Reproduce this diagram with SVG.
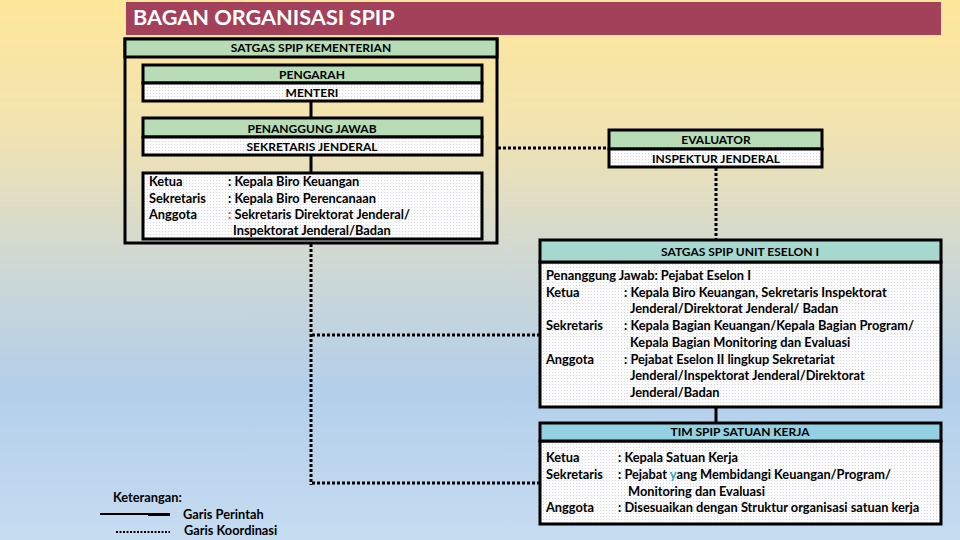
<svg xmlns="http://www.w3.org/2000/svg" width="960" height="540" viewBox="0 0 960 540">
<defs>
<linearGradient id="bg" x1="0" y1="0" x2="0" y2="1">
<stop offset="0" stop-color="#fee79b"/>
<stop offset="0.25" stop-color="#f1e3b2"/>
<stop offset="0.47" stop-color="#d1d9d2"/>
<stop offset="0.72" stop-color="#b3cfea"/>
<stop offset="1" stop-color="#c6dcf1"/>
</linearGradient>
<pattern id="dots" width="3" height="3" patternUnits="userSpaceOnUse">
<rect width="3" height="3" fill="#fbfbfb"/>
<rect width="1" height="1" fill="#d3d8dc"/>
</pattern>
<style>
text{font-family:Lato,"Open Sans","Liberation Sans",sans-serif;font-weight:bold;fill:#000}
.h{font-size:12px;text-anchor:middle}
.b{font-size:12.8px}
.box{stroke:#000;stroke-width:3}
.sol{stroke:#000;stroke-width:3;fill:none}
.dot{stroke:#000;stroke-width:3;stroke-dasharray:3 2;fill:none}
.green{fill:#b7dcb6}
</style>
</defs>
<rect width="960" height="540" fill="url(#bg)"/>
<g id="title">
<rect x="126" y="2" width="815" height="33" fill="#a3405a"/>
<text x="133" y="25" style="font-size:21.7px;fill:#fff">BAGAN ORGANISASI SPIP</text>
</g>
<g id="connectors">
<line class="sol" x1="311" y1="101" x2="311" y2="118"/>
<line class="sol" x1="311" y1="155" x2="311" y2="173"/>
<line class="dot" x1="498" y1="148" x2="608" y2="148"/>
<line class="dot" x1="716" y1="168" x2="716" y2="240"/>
<line class="sol" x1="716" y1="407" x2="716" y2="423"/>
<line class="dot" x1="311" y1="244" x2="311" y2="485"/>
<line class="dot" x1="312" y1="335" x2="539" y2="335"/>
<line class="dot" x1="312" y1="483" x2="539" y2="483"/>
</g>
<g id="satgas-kementerian">
<rect class="box" x="125" y="39" width="372" height="204" fill="none"/>
<rect class="box green" x="125" y="39" width="372" height="18"/>
<text class="h" x="311" y="52">SATGAS SPIP KEMENTERIAN</text>
</g>
<g id="pengarah">
<rect class="box green" x="143" y="65" width="339" height="18"/>
<rect class="box" x="143" y="83" width="339" height="18" fill="url(#dots)"/>
<text class="h" x="312" y="79">PENGARAH</text>
<text class="h" x="312" y="97">MENTERI</text>
</g>
<g id="penanggung-jawab">
<rect class="box green" x="143" y="118" width="339" height="19"/>
<rect class="box" x="143" y="137" width="339" height="18" fill="url(#dots)"/>
<text class="h" x="312" y="133">PENANGGUNG JAWAB</text>
<text class="h" x="312" y="151">SEKRETARIS JENDERAL</text>
</g>
<g id="anggota-kementerian">
<rect class="box" x="143" y="173" width="339" height="66" fill="url(#dots)"/>
<text class="b" x="149" y="186">Ketua</text>
<text class="b" x="149" y="203">Sekretaris</text>
<text class="b" x="149" y="219">Anggota</text>
<text class="b" x="228" y="186">: Kepala Biro Keuangan</text>
<text class="b" x="228" y="203">: Kepala Biro Perencanaan</text>
<text class="b" x="228" y="219"><tspan fill="#e04040">:</tspan> Sekretaris Direktorat Jenderal/</text>
<text class="b" x="233" y="235">Inspektorat Jenderal/Badan</text>
</g>
<g id="evaluator">
<rect class="box green" x="609" y="130" width="213" height="19"/>
<rect class="box" x="609" y="149" width="213" height="18" fill="url(#dots)"/>
<text class="h" x="716" y="144">EVALUATOR</text>
<text class="h" x="716" y="163">INSPEKTUR JENDERAL</text>
</g>
<g id="satgas-eselon">
<rect class="box" x="540" y="262" width="401" height="145" fill="url(#dots)"/>
<rect class="box" x="540" y="240" width="401" height="22" fill="#a6d8cf"/>
<text class="h" x="740" y="256">SATGAS SPIP UNIT ESELON I</text>
<text class="b" x="546" y="280">Penanggung Jawab: Pejabat Eselon I</text>
<text class="b" x="546" y="297">Ketua</text>
<text class="b" x="624" y="297">: Kepala Biro Keuangan, Sekretaris Inspektorat</text>
<text class="b" x="630" y="313">Jenderal/Direktorat Jenderal/ Badan</text>
<text class="b" x="546" y="330">Sekretaris</text>
<text class="b" x="624" y="330">: Kepala Bagian Keuangan/Kepala Bagian Program/</text>
<text class="b" x="630" y="347">Kepala Bagian Monitoring dan Evaluasi</text>
<text class="b" x="546" y="364">Anggota</text>
<text class="b" x="624" y="364">: Pejabat Eselon II lingkup Sekretariat</text>
<text class="b" x="630" y="380">Jenderal/Inspektorat Jenderal/Direktorat</text>
<text class="b" x="630" y="397">Jenderal/Badan</text>
</g>
<g id="tim-satker">
<rect class="box" x="540" y="441" width="401" height="83" fill="url(#dots)"/>
<rect class="box" x="540" y="423" width="401" height="18" fill="#93d0e1"/>
<text class="h" x="740" y="436">TIM SPIP SATUAN KERJA</text>
<text class="b" x="546" y="462">Ketua</text>
<text class="b" x="618" y="462">: Kepala Satuan Kerja</text>
<text class="b" x="546" y="479">Sekretaris</text>
<text class="b" x="618" y="479">: Pejabat <tspan fill="#3aa0c0">y</tspan>ang Membidangi Keuangan/Program/</text>
<text class="b" x="628" y="496">Monitoring dan Evaluasi</text>
<text class="b" x="546" y="512">Anggota</text>
<text class="b" x="618" y="512">: Disesuaikan dengan Struktur organisasi satuan kerja</text>
</g>
<g id="legend">
<text class="b" x="113" y="502">Keterangan:</text>
<line x1="100" y1="514" x2="170" y2="514" stroke="#000" stroke-width="2"/>
<line x1="148" y1="514.5" x2="170" y2="514.5" stroke="#000" stroke-width="3"/>
<text class="b" x="183" y="519">Garis Perintah</text>
<line x1="116" y1="532" x2="170" y2="532" stroke="#000" stroke-width="2" stroke-dasharray="2 1.5"/>
<text class="b" x="184" y="535">Garis Koordinasi</text>
</g>
</svg>
